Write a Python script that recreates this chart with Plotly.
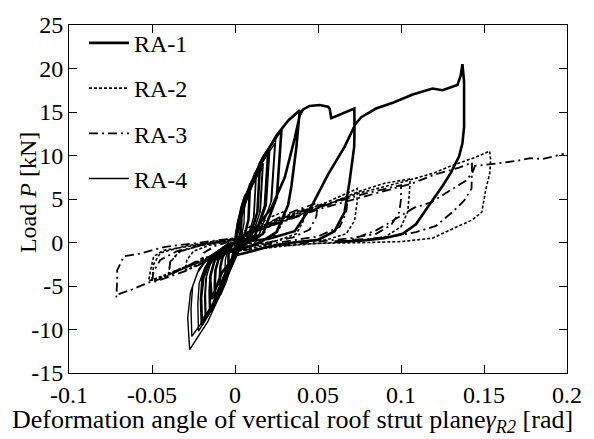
import plotly.graph_objects as go

# ---------------- data ----------------
ra1_pts = [
    (0, 0), (0.0008, 1.2), (0.0024, 2.6), (0.004, 3.5), (0.0036, 1.4), (0.0024, 0.3), (0.0004, -0.2),
    (-0.0012, -1.4), (-0.0024, -2.2), (-0.004, -3.0), (-0.0041, -2.1), (-0.0039, -1.4), (-0.0033, -0.8),
    (-0.0024, -0.5), (-0.0008, -0.1),
    (0, 0), (0.0018, 2.3), (0.0054, 4.9), (0.009, 6.5), (0.0081, 2.6), (0.0054, 0.5), (0.0009, -0.3),
    (-0.0027, -2.8), (-0.0054, -4.4), (-0.009, -6.0), (-0.0092, -4.2), (-0.0088, -2.8), (-0.0075, -1.7),
    (-0.0054, -0.9), (-0.0018, -0.1),
    (0, 0), (0.003, 3.1), (0.009, 6.6), (0.015, 8.8), (0.0135, 3.5), (0.009, 0.7), (0.0015, -0.4),
    (-0.0036, -3.2), (-0.0072, -5.2), (-0.012, -7.0), (-0.0122, -4.9), (-0.0118, -3.2), (-0.01, -2.0),
    (-0.0072, -1.1), (-0.0024, -0.1),
    (0, 0), (0.004, 3.7), (0.012, 7.9), (0.02, 10.5), (0.018, 4.2), (0.012, 0.8), (0.002, -0.5),
    (-0.0045, -3.7), (-0.009, -5.9), (-0.015, -8.0), (-0.0153, -5.6), (-0.0147, -3.7), (-0.0125, -2.2),
    (-0.009, -1.2), (-0.003, -0.2),
    (0, 0), (0.0056, 4.6), (0.0168, 9.8), (0.028, 13.0), (0.0252, 5.2), (0.0168, 1.0), (0.0028, -0.6),
    (-0.006, -4.4), (-0.012, -7.0), (-0.02, -9.0), (-0.0204, -6.3), (-0.0196, -4.1), (-0.0166, -2.5),
    (-0.012, -1.3), (-0.004, -0.2),
    (0, 0), (0.006, 4.5), (0.015, 9.0), (0.025, 12.3), (0.032, 14.0), (0.039, 15.2), (0.037, 11.0),
    (0.034, 6.5), (0.032, 4.3), (0.025, 1.2), (0.015, 0.0), (0.0, -1.0), (-0.008, -4.5), (-0.014, -7.5),
    (-0.02, -9.5), (-0.0205, -6.5), (-0.019, -4.0), (-0.015, -2.2), (-0.008, -0.8), (0, 0),
    (0.012, 1.5), (0.022, 4.0), (0.03, 7.5), (0.036, 12.0), (0.039, 14.6), (0.041, 15.3), (0.045, 15.7),
    (0.051, 15.8), (0.056, 15.6), (0.057, 15.4), (0.058, 14.3), (0.065, 14.9), (0.0719, 15.4),
    (0.072, 13.0), (0.0718, 11.0), (0.069, 7.0), (0.066, 3.5), (0.06, 1.3), (0.05, 0.3), (0.035, 0.0),
    (0.02, -0.5), (0.0, -1.5), (-0.008, -3.5), (-0.014, -6.5), (-0.015, -4.0), (-0.012, -1.8),
    (-0.005, -0.5), (0.0, 0.0),
    (0.02, 0.4), (0.036, 1.3), (0.0465, 4.3), (0.056, 7.8), (0.066, 11.0), (0.0725, 13.6), (0.076, 14.4),
    (0.085, 15.4), (0.0955, 16.1), (0.107, 17.0), (0.115, 17.5), (0.119, 17.7), (0.125, 17.5),
    (0.13, 17.8), (0.134, 18.1), (0.136, 19.2), (0.137, 20.5), (0.138, 18.5), (0.138, 13.3),
    (0.137, 11.4), (0.135, 9.9), (0.13, 8.0), (0.125, 6.5), (0.117, 4.3), (0.109, 2.1), (0.101, 1.0),
    (0.09, 0.5), (0.076, 0.2), (0.06, 0.1),
]

ra2_pts = [
    (0, 0), (0.005, 1.2), (0.01, 2.0), (0.008, 0.8), (0.004, 0.0), (0, -0.5), (-0.005, -1.2), (-0.01, -2.0),
    (-0.009, -1.0), (-0.005, -0.3), (0, 0.2),
    (0.01, 1.5), (0.02, 2.8), (0.03, 3.6), (0.028, 2.0), (0.024, 0.8), (0.015, 0.2), (0, -0.6),
    (-0.01, -1.5), (-0.02, -2.4), (-0.03, -3.2), (-0.029, -2.0), (-0.025, -1.0), (-0.015, -0.3), (0, 0.3),
    (0.015, 1.7), (0.03, 3.0), (0.042, 3.9), (0.041, 2.4), (0.037, 1.0), (0.025, 0.2), (0, -0.7),
    (-0.015, -1.8), (-0.03, -2.9), (-0.04, -3.7), (-0.039, -2.3), (-0.034, -1.1), (-0.02, -0.3), (0, 0.3),
    (0.015, 1.6), (0.03, 2.8), (0.045, 3.9), (0.055, 4.6), (0.0737, 6.2), (0.0735, 4.5), (0.072, 2.5),
    (0.067, 1.0), (0.055, 0.3), (0.04, 0.1), (0.02, -0.3), (0, -0.9), (-0.015, -1.8), (-0.03, -2.9),
    (-0.042, -3.9), (-0.052, -4.4), (-0.051, -3.3), (-0.049, -1.6), (-0.043, -0.9), (-0.037, -0.7),
    (-0.02, -0.2), (0, 0.4),
    (0.02, 1.8), (0.04, 3.2), (0.06, 4.7), (0.075, 5.9), (0.09, 6.8), (0.1055, 7.3), (0.105, 5.5),
    (0.104, 3.5), (0.1, 1.8), (0.09, 0.6), (0.07, 0.1), (0.04, -0.2), (0.0, -1.0), (-0.02, -2.0),
    (-0.035, -3.2), (-0.05, -4.3), (-0.049, -2.5), (-0.045, -1.2), (-0.03, -0.4), (0, 0.5),
    (0.02, 1.8), (0.05, 4.0), (0.075, 5.7), (0.1, 6.9), (0.12, 8.0), (0.13, 8.8), (0.145, 9.8),
    (0.1534, 10.5), (0.154, 9.5), (0.1535, 8.0), (0.151, 6.0), (0.1487, 3.5), (0.143, 2.6), (0.137, 2.1),
    (0.128, 1.3), (0.119, 0.5), (0.1, 0.1), (0.08, 0.0), (0.05, -0.1), (0.03, -0.4),
]

ra3_pts = [
    (0, 0), (0.01, 1.5), (0.02, 2.5), (0.018, 1.2), (0.012, 0.3), (0, -0.5), (-0.01, -1.5), (-0.02, -2.4),
    (-0.019, -1.2), (-0.012, -0.4), (0, 0.3),
    (0.015, 1.8), (0.03, 3.2), (0.045, 4.2), (0.05, 4.6), (0.049, 3.0), (0.045, 1.5), (0.035, 0.6),
    (0.02, 0.0), (0, -0.8), (-0.015, -2.0), (-0.03, -3.3), (-0.045, -4.3), (-0.05, -4.6), (-0.049, -3.3),
    (-0.045, -2.0), (-0.035, -1.0), (-0.02, -0.3), (0, 0.4),
    (0.02, 2.2), (0.04, 3.6), (0.06, 4.8), (0.068, 5.2), (0.067, 3.4), (0.063, 1.8), (0.05, 0.7),
    (0.03, 0.1), (0, -0.7), (-0.02, -2.0), (-0.035, -3.2), (-0.04, -3.6), (-0.039, -2.2), (-0.033, -1.0),
    (-0.02, -0.3), (0, 0.4),
    (0.02, 2.0), (0.04, 3.4), (0.06, 4.6), (0.08, 5.7), (0.1, 6.6), (0.1, 5.0), (0.099, 3.5), (0.094, 2.0),
    (0.085, 1.0), (0.07, 0.5), (0.05, 0.1), (0.03, -0.3), (0.0, -1.0), (-0.0197, -1.8), (-0.0285, -2.7),
    (-0.042, -4.0), (-0.052, -4.6), (-0.062, -5.4), (-0.071, -6.0), (-0.0715, -6.3), (-0.071, -4.5),
    (-0.071, -3.2), (-0.067, -1.6), (-0.058, -1.3), (-0.042, -0.5), (-0.0226, 0.0), (0, 0.5),
    (0.02, 1.8), (0.05, 3.8), (0.08, 5.4), (0.107, 6.8), (0.12, 7.8), (0.135, 8.6), (0.1428, 9.2),
    (0.1428, 8.0), (0.1425, 6.2), (0.138, 4.8), (0.131, 3.5), (0.121, 1.9), (0.109, 1.2), (0.095, 0.7),
    (0.08, 0.4), (0.07, 0.3), (0.085, 1.4), (0.095, 2.5), (0.108, 4.0), (0.118, 4.6), (0.127, 5.7),
    (0.139, 7.1), (0.143, 8.0), (0.1445, 8.8), (0.1587, 9.1), (0.17, 9.4), (0.178, 9.7), (0.185, 9.6),
    (0.192, 9.9), (0.198, 10.2),
]

ra4_pts = [
    (0, 0), (0.0012, 1.9), (0.0036, 4.1), (0.006, 5.5), (0.0054, 2.2), (0.0036, 0.4), (0.0006, -0.3),
    (-0.0018, -2.1), (-0.0036, -3.3), (-0.006, -4.5), (-0.0061, -3.2), (-0.0059, -2.1), (-0.005, -1.3),
    (-0.0036, -0.7), (-0.0012, -0.1),
    (0, 0), (0.0026, 2.7), (0.0077, 5.8), (0.0128, 7.7), (0.0115, 3.1), (0.0077, 0.6), (0.0013, -0.4),
    (-0.0036, -3.2), (-0.0072, -5.2), (-0.012, -7.0), (-0.0122, -4.9), (-0.0118, -3.2), (-0.01, -2.0),
    (-0.0072, -1.1), (-0.0024, -0.1),
    (0, 0), (0.0025, 2.5), (0.0075, 5.5), (0.0125, 7.3), (0.0112, 2.9), (0.0075, 0.5), (0.0012, -0.4),
    (-0.0035, -3.0), (-0.0071, -4.9), (-0.0118, -6.6), (-0.012, -4.6), (-0.0116, -3.0), (-0.0098, -1.8),
    (-0.0071, -1.0), (-0.0024, -0.1),
    (0, 0), (0.0034, 3.2), (0.0102, 6.8), (0.017, 9.1), (0.0153, 3.6), (0.0102, 0.7), (0.0017, -0.5),
    (-0.0054, -4.1), (-0.0107, -6.6), (-0.0179, -8.9), (-0.0183, -6.2), (-0.0175, -4.1), (-0.0149, -2.5),
    (-0.0107, -1.3), (-0.0036, -0.2),
    (0, 0), (0.0033, 3.0), (0.0099, 6.4), (0.0165, 8.6), (0.0149, 3.4), (0.0099, 0.6), (0.0016, -0.5),
    (-0.0052, -3.8), (-0.0105, -6.1), (-0.0175, -8.3), (-0.0178, -5.8), (-0.0171, -3.8), (-0.0145, -2.3),
    (-0.0105, -1.2), (-0.0035, -0.2),
    (0, 0), (0.0042, 3.8), (0.0126, 8.1), (0.021, 10.8), (0.0189, 4.3), (0.0126, 0.9), (0.0021, -0.5),
    (-0.0066, -4.7), (-0.0132, -7.5), (-0.022, -10.2), (-0.0224, -7.1), (-0.0216, -4.7), (-0.0183, -2.9),
    (-0.0132, -1.5), (-0.0044, -0.2),
    (0, 0), (0.0049, 4.3), (0.0148, 9.2), (0.0246, 12.2), (0.0221, 4.9), (0.0148, 1.0), (0.0025, -0.6),
    (-0.0082, -5.7), (-0.0164, -9.1), (-0.0273, -12.3), (-0.0285, -8.7), (-0.0268, -5.7), (-0.0226, -3.5),
    (-0.0164, -1.8), (-0.0055, -0.3),
    (0, 0), (0.0048, 4.0), (0.0144, 8.6), (0.024, 11.4), (0.0216, 4.6), (0.0144, 0.9), (0.0024, -0.6),
    (-0.0078, -5.0), (-0.0156, -8.0), (-0.026, -10.8), (-0.0265, -7.6), (-0.0255, -5.0), (-0.0216, -3.0),
    (-0.0156, -1.6), (-0.0052, -0.3), (0, 0),
]

series_names = ["RA-1", "RA-2", "RA-3", "RA-4"]
x_ticks = [-0.1, -0.05, 0, 0.05, 0.1, 0.15, 0.2]
x_tick_labels = ["-0.1", "-0.05", "0", "0.05", "0.1", "0.15", "0.2"]
y_ticks = [-15, -10, -5, 0, 5, 10, 15, 20, 25]
y_tick_labels = ["-15", "-10", "-5", "0", "5", "10", "15", "20", "25"]
x_title = "Deformation angle of vertical roof strut plane<i>γ</i><sub><i>R2</i></sub> [rad]"
y_title = "Load <i>P</i> [kN]"

# ---------------- figure ----------------
FONT = "Liberation Serif, Times New Roman, serif"
FS = 24
styles = [
    dict(width=2.6, dash="solid"),
    dict(width=1.6, dash="3px,2px"),
    dict(width=1.8, dash="9px,4px,2px,4px"),
    dict(width=1.4, dash="solid"),
]
all_pts = [ra1_pts, ra2_pts, ra3_pts, ra4_pts]

fig = go.Figure()
for name, pts, st in zip(series_names, all_pts, styles):
    xs = [p[0] for p in pts]
    ys = [p[1] for p in pts]
    fig.add_trace(go.Scatter(
        x=xs, y=ys, mode="lines", name=name, legendgroup=name,
        line=dict(color="black", width=st["width"], dash=st["dash"]),
    ))

axis_common = dict(
    showline=True, linecolor="black", linewidth=1, mirror="allticks",
    ticks="inside", ticklen=8, tickcolor="black", tickwidth=1,
    showgrid=False, zeroline=False,
    tickfont=dict(family=FONT, size=FS, color="black"),
)
fig.update_xaxes(range=[-0.1, 0.2], tickvals=x_ticks, ticktext=x_tick_labels,
                 ticklabelstandoff=0, **axis_common)
fig.update_yaxes(range=[-15, 25], tickvals=y_ticks, ticktext=y_tick_labels,
                 ticklabelstandoff=0, **axis_common)

fig.add_annotation(text=x_title, xref="paper", yref="paper", x=0.449, y=0,
                   xanchor="center", yanchor="middle", yshift=-48, showarrow=False,
                   font=dict(family=FONT, size=26, color="black"))
fig.add_annotation(text=y_title, xref="paper", yref="paper", x=0, y=0.517,
                   xanchor="center", yanchor="middle", xshift=-41, textangle=-90,
                   showarrow=False, font=dict(family=FONT, size=FS, color="black"))

fig.update_layout(
    width=594, height=439,
    margin=dict(l=69, r=17, t=15, b=66),
    paper_bgcolor="white", plot_bgcolor="white",
    font=dict(family=FONT, size=FS, color="black"),
    legend=dict(x=0.03, y=1.012, xanchor="left", yanchor="top",
                bgcolor="rgba(0,0,0,0)", borderwidth=0,
                font=dict(family=FONT, size=FS, color="black"),
                tracegroupgap=11, itemwidth=40),
    showlegend=True,
)

fig.write_html("out.html")
